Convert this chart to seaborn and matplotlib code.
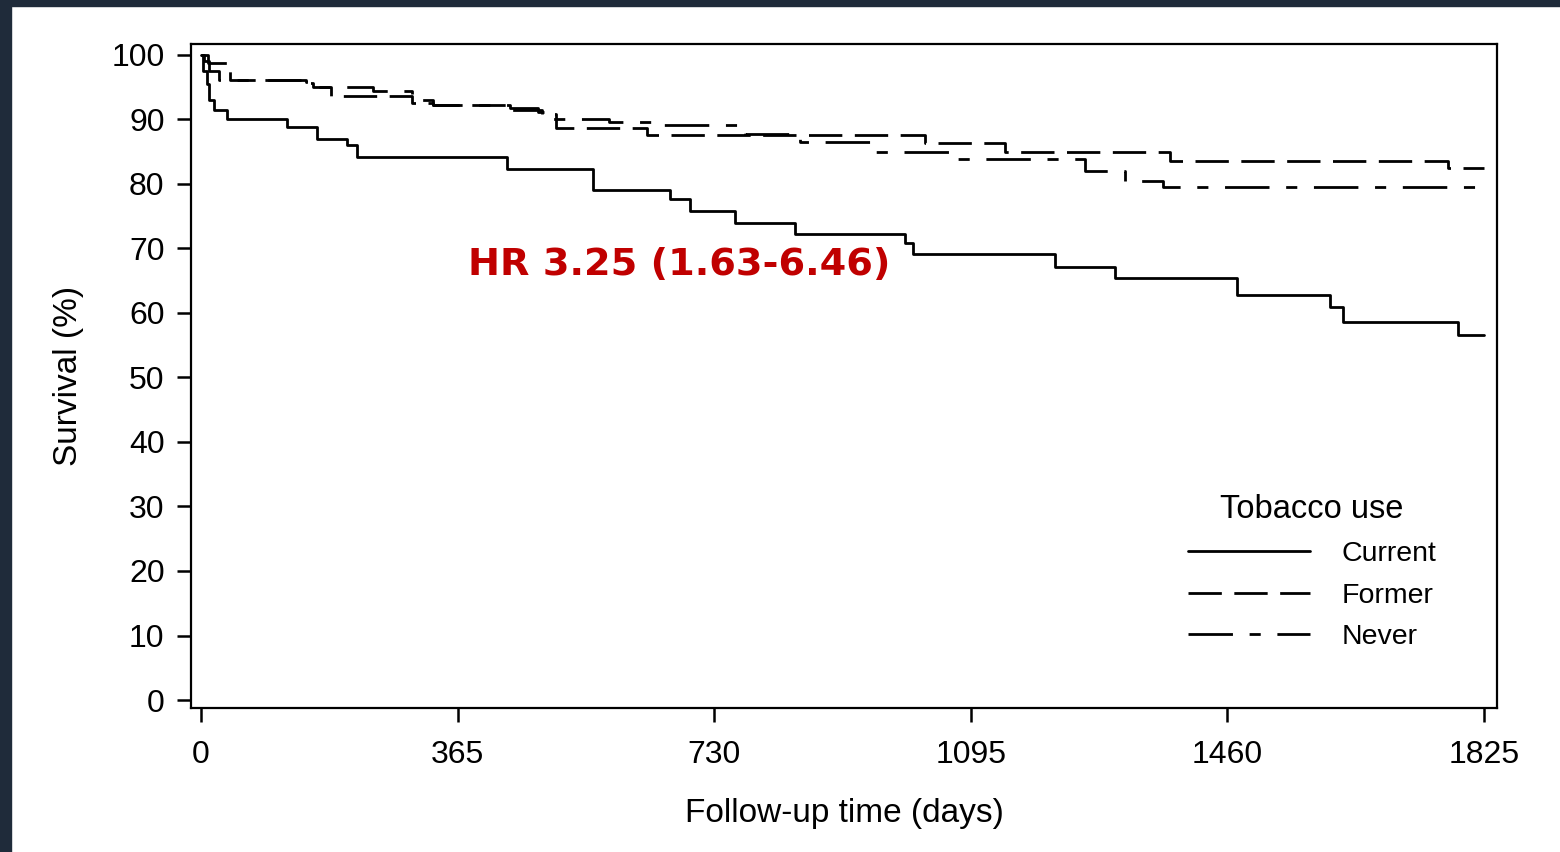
import seaborn as sns
import matplotlib.pyplot as plt
import pandas as pd
from matplotlib.patches import Rectangle

# Kaplan-Meier steps (day, survival %)
current_days = [0, 3, 8, 12, 18, 37, 122, 165, 208, 222, 435, 558, 667, 696, 760, 845, 1001, 1013, 1215, 1300, 1474, 1606, 1624, 1788, 1825]
current_surv = [100, 97.5, 95.5, 93, 91.5, 90, 88.8, 87, 86, 84.2, 82.3, 79, 77.7, 75.8, 74, 72.2, 70.8, 69.1, 67.1, 65.4, 62.8, 61, 58.6, 56.6, 56.6]

former_days = [0, 10, 41, 145, 160, 185, 300, 330, 440, 485, 505, 635, 1030, 1144, 1378, 1774, 1825]
former_surv = [100, 98.8, 96.1, 95.7, 95.0, 93.6, 92.6, 92.2, 91.5, 90.8, 88.7, 87.6, 86.4, 85.0, 83.6, 82.5, 82.5]

never_days = [0, 5, 12, 25, 150, 165, 245, 300, 330, 440, 480, 500, 580, 640, 774, 852, 952, 1075, 1257, 1314, 1368, 1825]
never_surv = [100, 99, 97.5, 96.1, 95.8, 95.0, 94.4, 93.0, 92.2, 91.8, 91.2, 90.0, 89.6, 89.1, 87.8, 86.5, 85.0, 83.8, 82.0, 80.5, 79.5, 79.5]

groups = ["Current", "Former", "Never"]
x_ticks = [0, 365, 730, 1095, 1460, 1825]
y_ticks = list(range(0, 101, 10))

df = pd.concat([
    pd.DataFrame({"day": current_days, "surv": current_surv, "group": "Current"}),
    pd.DataFrame({"day": former_days, "surv": former_surv, "group": "Former"}),
    pd.DataFrame({"day": never_days, "surv": never_surv, "group": "Never"}),
], ignore_index=True)

sns.set_style("white")
plt.rcParams['font.family'] = ['Liberation Sans', 'DejaVu Sans']
plt.rcParams['text.color'] = 'black'
plt.rcParams['axes.labelcolor'] = 'black'

fig = plt.figure(figsize=(15.6, 8.52), dpi=100)
ax = fig.add_axes([0.1224, 0.169, 0.8372, 0.7794])

dash_map = {"Current": "", "Former": (12, 4.5), "Never": (16, 6, 4, 6)}
sns.lineplot(data=df, x="day", y="surv", style="group", style_order=groups,
             dashes=dash_map, color="black", linewidth=2.0, drawstyle="steps-post",
             estimator=None, sort=False, legend=False, ax=ax)

ax.set_xlim(-14.2, 1843.5)
ax.set_ylim(-1.24, 101.7)
ax.set_xticks(x_ticks)
ax.set_yticks(y_ticks)
ax.tick_params(axis="both", labelsize=23, length=10, width=1.8, direction="out",
               colors="black", pad=9, bottom=True, left=True)
ax.tick_params(axis="x", pad=13)
for s in ax.spines.values():
    s.set_linewidth(1.6)
    s.set_color("black")

ax.set_xlabel("Follow-up time (days)", fontsize=24, labelpad=20)
ax.set_ylabel("Survival (%)", fontsize=24, labelpad=20)

ax.text(0.30, 0.689, "HR 3.25 (1.63-6.46)", transform=fig.transFigure,
        color="#c00000", fontsize=27.5, fontweight="bold", family="DejaVu Sans",
        ha="left", va="center")

leg = ax.legend(ax.get_lines()[:3], groups, title="Tobacco use", frameon=False,
                loc="upper left", bbox_to_anchor=(0.745, 0.45),
                bbox_transform=fig.transFigure, fontsize=20.5, title_fontsize=23.5,
                handlelength=4.3, handletextpad=1.1, labelspacing=0.55)

# dark frame strips along top and left edges
fig.patches.append(Rectangle((0, 1 - 6 / 852), 1, 6 / 852, transform=fig.transFigure,
                             color="#1f2b3a", zorder=10))
fig.patches.append(Rectangle((0, 0), 11 / 1560, 1, transform=fig.transFigure,
                             color="#1f2b3a", zorder=10))

plt.savefig("out.png", dpi=100)
